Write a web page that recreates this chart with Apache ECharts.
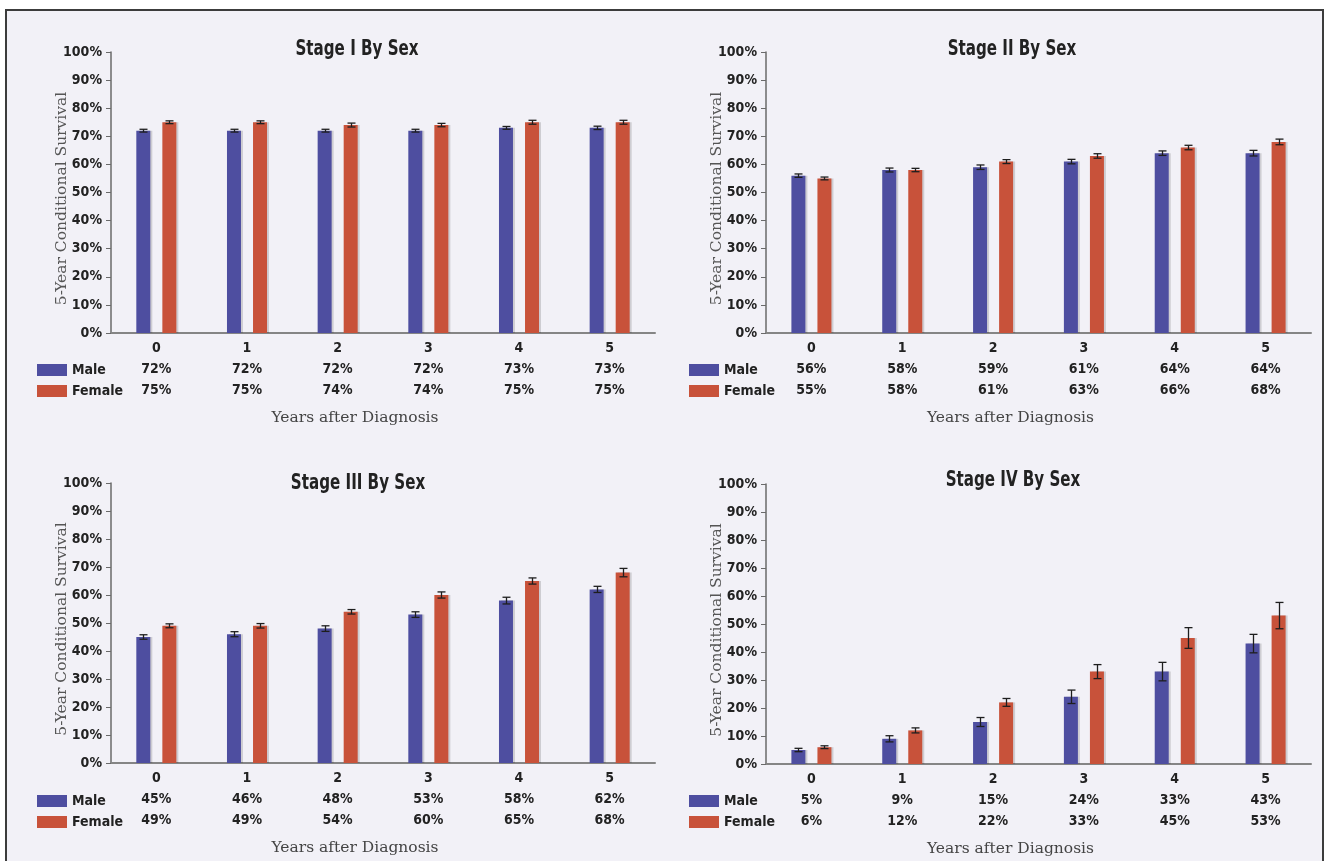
<!DOCTYPE html>
<html>
<head>
<meta charset="utf-8">
<script src="https://cdn.jsdelivr.net/npm/echarts@6/dist/echarts.min.js"></script>
<style>
  html, body { margin: 0; padding: 0; background: #ffffff; }
  #chart { width: 1325px; height: 861px; }
</style>
</head>
<body>
<div id="chart"></div>
<script>
// Years after diagnosis (category axis)
const years = ['0', '1', '2', '3', '4', '5'];
const yTicks = [0, 10, 20, 30, 40, 50, 60, 70, 80, 90, 100];

// 5-year conditional survival (%), by stage and sex
const stage1Male   = [72, 72, 72, 72, 73, 73];
const stage1Female = [75, 75, 74, 74, 75, 75];
const stage2Male   = [56, 58, 59, 61, 64, 64];
const stage2Female = [55, 58, 61, 63, 66, 68];
const stage3Male   = [45, 46, 48, 53, 58, 62];
const stage3Female = [49, 49, 54, 60, 65, 68];
const stage4Male   = [5, 9, 15, 24, 33, 43];
const stage4Female = [6, 12, 22, 33, 45, 53];

// Half-width of the confidence interval (percentage points)
const stage1MaleErr   = [0.5, 0.5, 0.5, 0.5, 0.5, 0.6];
const stage1FemaleErr = [0.5, 0.5, 0.7, 0.6, 0.7, 0.7];
const stage2MaleErr   = [0.6, 0.7, 0.8, 0.8, 0.8, 1.0];
const stage2FemaleErr = [0.5, 0.6, 0.7, 0.8, 0.8, 1.0];
const stage3MaleErr   = [0.8, 0.9, 1.0, 1.0, 1.2, 1.1];
const stage3FemaleErr = [0.7, 0.8, 0.8, 1.1, 1.1, 1.5];
const stage4MaleErr   = [0.6, 1.1, 1.6, 2.4, 3.3, 3.3];
const stage4FemaleErr = [0.5, 0.9, 1.4, 2.5, 3.7, 4.7];

const panelTitles = ['Stage I By Sex', 'Stage II By Sex', 'Stage III By Sex', 'Stage IV By Sex'];
const seriesNames = ['Male', 'Female'];

const panels = [
  { male: stage1Male, female: stage1Female, maleErr: stage1MaleErr, femaleErr: stage1FemaleErr },
  { male: stage2Male, female: stage2Female, maleErr: stage2MaleErr, femaleErr: stage2FemaleErr },
  { male: stage3Male, female: stage3Female, maleErr: stage3MaleErr, femaleErr: stage3FemaleErr },
  { male: stage4Male, female: stage4Female, maleErr: stage4MaleErr, femaleErr: stage4FemaleErr }
];

const MALE_COLOR = '#4e4ea0';
const FEMALE_COLOR = '#c8523a';
const BOLD_FONT = "'Liberation Sans Narrow', 'DejaVu Sans Condensed', 'Roboto', sans-serif";
const SLAB_FONT = "'DejaVu Serif', 'Liberation Serif', serif";

// Layout of the four plotting areas
const grids = [
  { left: 111, top: 52,  width: 544, height: 281 },
  { left: 766, top: 52,  width: 545, height: 281 },
  { left: 111, top: 483, width: 544, height: 280 },
  { left: 766, top: 484, width: 545, height: 280 }
];
const titlePos = [[357, 50], [1012, 50], [358, 484], [1013, 481]];
const legendPos = [[37, 361], [689, 361], [37, 792], [689, 792]];

const BAR_W = 14;
const BAR_OFFSET = 13;

function errorRenderer(offset) {
  return function (params, api) {
    const i = api.value(0), v = api.value(1), e = api.value(2);
    const hi = api.coord([i, v + e]);
    const lo = api.coord([i, v - e]);
    const x = Math.round(hi[0] + offset) + 0.5;
    const style = { stroke: '#1e1e1e', lineWidth: 1.3 };
    return {
      type: 'group',
      children: [
        { type: 'line', shape: { x1: x, y1: hi[1], x2: x, y2: lo[1] }, style: style },
        { type: 'line', shape: { x1: x - 4, y1: hi[1], x2: x + 4, y2: hi[1] }, style: style },
        { type: 'line', shape: { x1: x - 4, y1: lo[1], x2: x + 4, y2: lo[1] }, style: style }
      ]
    };
  };
}

const option = {
  backgroundColor: '#ffffff',
  animation: false,
  graphic: [
    {
      type: 'rect', z: -10, silent: true,
      shape: { x: 6, y: 10, width: 1317, height: 870 },
      style: { fill: '#f2f1f7', stroke: '#3c3c3c', lineWidth: 2 }
    }
  ].concat(panelTitles.map((t, k) => ({
    type: 'text', silent: true,
    x: titlePos[k][0], y: titlePos[k][1],
    scaleX: 0.8,
    style: {
      text: t, fill: '#222222', font: 'bold 21px ' + BOLD_FONT,
      textAlign: 'center', textVerticalAlign: 'middle'
    }
  }))),
  grid: grids.map(g => Object.assign({ containLabel: false }, g)),
  legend: legendPos.map(p => ({
    left: p[0], top: p[1] + 1, orient: 'vertical', padding: 0,
    icon: 'rect', itemWidth: 30, itemHeight: 12, itemGap: 5,
    selectedMode: false,
    data: seriesNames,
    textStyle: { fontFamily: BOLD_FONT, fontWeight: 'bold', fontSize: 14, color: '#222', lineHeight: 16 }
  })),
  xAxis: panels.map((p, k) => ({
    type: 'category', gridIndex: k, data: years,
    axisTick: { show: false },
    axisLine: { lineStyle: { color: '#858585', width: 2 } },
    name: 'Years after Diagnosis',
    nameLocation: 'middle', nameGap: 77, nameMoveOverlap: false,
    nameTextStyle: { fontFamily: SLAB_FONT, fontSize: 15.5, color: '#444', padding: [0, 56, 0, 0] },
    axisLabel: {
      interval: 0, margin: 5,
      formatter: function (value, idx) {
        return '{c|' + value + '}\n{v|' + p.male[idx] + '%}\n{v|' + p.female[idx] + '%}';
      },
      rich: {
        c: { fontFamily: BOLD_FONT, fontWeight: 'bold', fontSize: 14, color: '#222', lineHeight: 21, align: 'center' },
        v: { fontFamily: BOLD_FONT, fontWeight: 'bold', fontSize: 14, color: '#222', lineHeight: 21, align: 'center' }
      }
    }
  })),
  yAxis: panels.map((p, k) => ({
    type: 'value', gridIndex: k, min: 0, max: 100, interval: 10,
    splitLine: { show: false },
    axisLine: { show: true, lineStyle: { color: '#6a6a6a', width: 1.5 } },
    axisTick: { show: true, length: 5, lineStyle: { color: '#6a6a6a' } },
    axisLabel: {
      margin: 9,
      formatter: v => (yTicks.indexOf(v) >= 0 ? v + '%' : ''),
      fontFamily: BOLD_FONT, fontWeight: 'bold', fontSize: 14, color: '#222'
    },
    name: '5-Year Conditional Survival',
    nameLocation: 'middle', nameGap: 41, nameRotate: 90, nameMoveOverlap: false,
    nameTextStyle: { fontFamily: SLAB_FONT, fontSize: 15.5, color: '#555', padding: [0, 12, 0, 0] }
  })),
  series: []
};

panels.forEach((p, k) => {
  const barCommon = {
    type: 'bar', xAxisIndex: k, yAxisIndex: k,
    barWidth: BAR_W, barGap: '86%',
    z: 2
  };
  option.series.push(Object.assign({}, barCommon, {
    name: 'Male', data: p.male,
    itemStyle: { color: MALE_COLOR, shadowColor: 'rgba(0,0,0,0.15)', shadowOffsetX: 2 }
  }));
  option.series.push(Object.assign({}, barCommon, {
    name: 'Female', data: p.female,
    itemStyle: { color: FEMALE_COLOR, shadowColor: 'rgba(0,0,0,0.15)', shadowOffsetX: 2 }
  }));
  option.series.push({
    type: 'custom', xAxisIndex: k, yAxisIndex: k, z: 5,
    renderItem: errorRenderer(-BAR_OFFSET),
    encode: { x: 0, y: 1 },
    data: p.male.map((v, i) => [i, v, p.maleErr[i]])
  });
  option.series.push({
    type: 'custom', xAxisIndex: k, yAxisIndex: k, z: 5,
    renderItem: errorRenderer(BAR_OFFSET),
    encode: { x: 0, y: 1 },
    data: p.female.map((v, i) => [i, v, p.femaleErr[i]])
  });
});

const chart = echarts.init(document.getElementById('chart'), null, { renderer: 'canvas' });
chart.setOption(option);
</script>
</body>
</html>
